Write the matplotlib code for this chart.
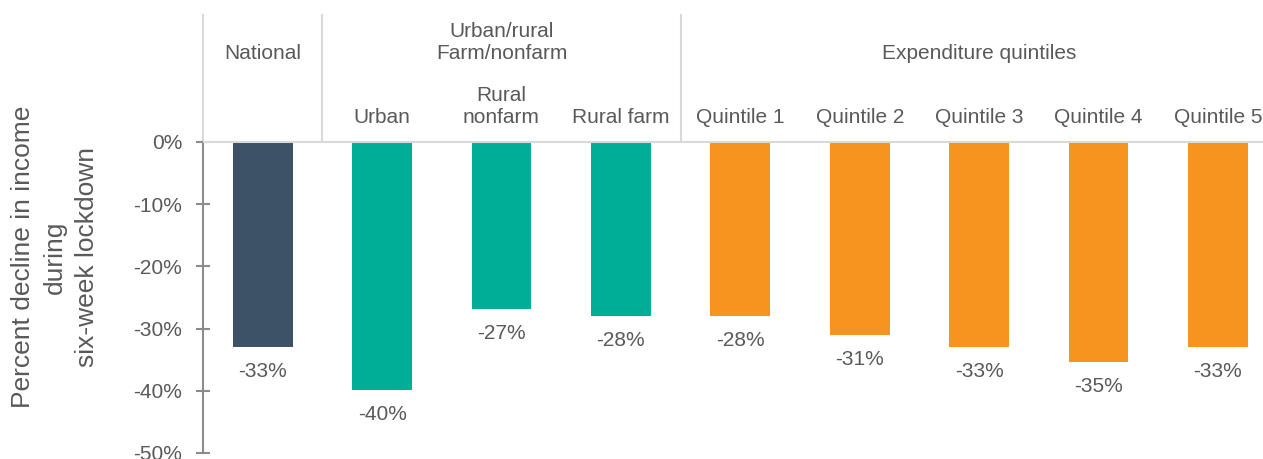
import matplotlib
matplotlib.use("Agg")
import matplotlib.pyplot as plt

plt.rcParams['font.family'] = ['Liberation Sans', 'DejaVu Sans']

categories = ['National', 'Urban', 'Rural\nnonfarm', 'Rural farm',
              'Quintile 1', 'Quintile 2', 'Quintile 3', 'Quintile 4', 'Quintile 5']
values = [-32.9, -39.8, -26.8, -27.9, -28.0, -31.0, -32.9, -35.3, -32.9]
colors = ['#3d5266', '#00ae98', '#00ae98', '#00ae98',
          '#f79420', '#f79420', '#f79420', '#f79420', '#f79420']
groups = ['National', 'Urban/rural\nFarm/nonfarm', 'Expenditure quintiles']
group_centers = [0, 2, 6]
group_edges = [-0.5, 0.5, 3.5]
yticks = [0, -10, -20, -30, -40, -50]

txt = '#595959'
grid = '#d9d9d9'

fig = plt.figure(figsize=(12.63, 4.59), dpi=100)
ax = fig.add_axes([203 / 1263, 6 / 459, 1074.6 / 1263, 438 / 459])

x = list(range(len(categories)))
ax.bar(x, values, width=0.5, color=colors, zorder=2)
ax.set_xlim(-0.5, 8.5)
ax.set_ylim(-50, 20.4)

ax.axhline(0, color=grid, lw=1.5, zorder=3)
for e in group_edges:
    ax.plot([e, e], [0, 20.4], color=grid, lw=1.5, clip_on=False, zorder=1)

for xi, v in zip(x, values):
    ax.annotate(f'{round(v):d}%', (xi, v), xytext=(0, -11), textcoords='offset points',
                ha='center', va='top', fontsize=15, color=txt)

for xi, lab in zip(x, categories):
    if xi == 0:
        continue
    ax.text(xi, 2.4, lab, ha='center', va='bottom', fontsize=15, color=txt,
            multialignment='center', linespacing=1.2)

# group headers, last line lined up with "National"
for gc, g in zip(group_centers, groups):
    ax.text(gc, 12.7, g, ha='center', va='bottom', fontsize=15, color=txt,
            multialignment='center', linespacing=1.2)

for s in ['top', 'right', 'bottom']:
    ax.spines[s].set_visible(False)
ax.spines['left'].set_bounds(-50, 0)
ax.spines['left'].set_color('#8c8c8c')
ax.spines['left'].set_linewidth(1.5)
ax.set_xticks([])
ax.set_yticks(yticks)
ax.set_yticklabels([f'{t}%' for t in yticks])
ax.tick_params(axis='y', direction='inout', length=10, width=1.5, color='#8c8c8c',
               labelsize=15, labelcolor=txt, pad=10)

fig.text(55 / 1263, 1 - 257 / 459, 'Percent decline in income\nduring\nsix-week lockdown',
         rotation=90, ha='center', va='center', multialignment='center',
         fontsize=19, color=txt, linespacing=1.4)

fig.savefig('out.png', dpi=100)
